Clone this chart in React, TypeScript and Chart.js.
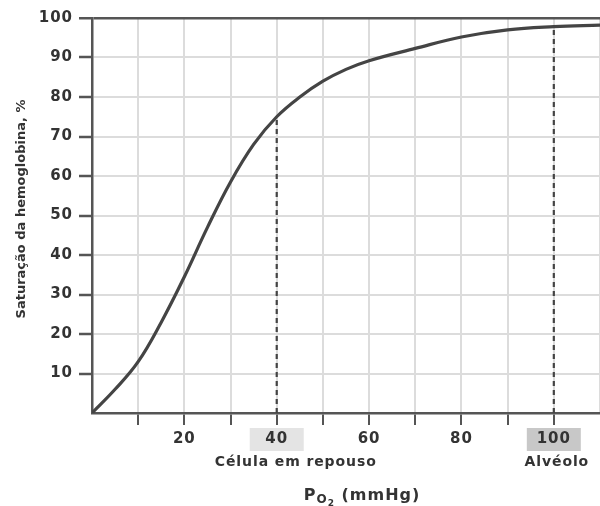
import React, { useEffect, useRef } from "react";
import { Chart, registerables } from "chart.js";

Chart.register(...registerables);

const po2Values = [0, 5, 10, 15, 20, 25, 30, 35, 40, 45, 50, 55, 60, 70, 80, 90, 100, 110];
const saturationValues = [0, 6, 13, 23, 34.5, 47, 58.5, 68, 75, 80, 84, 87, 89.2, 92.3, 95.2, 97, 97.8, 98.2];
const xTickLabels = [20, 40, 60, 80, 100];
const yTickLabels = [10, 20, 30, 40, 50, 60, 70, 80, 90, 100];
const markerPo2 = [40, 100];
const markerSaturation = [75, 97.8];
const markerNames = ["Célula em repouso", "Alvéolo"];
const markerNameShift = [19, 3];
const markerBoxColors = ["#e4e4e4", "#c8c8c8"];
const yTitle = "Saturação da hemoglobina, %";

const FONT = "'DejaVu Sans', 'Liberation Sans', Arial, sans-serif";
const TEXT = "#333333";

const overlayPlugin = {
  id: "overlay",
  beforeDraw(chart: any) {
    const ctx = chart.ctx;
    const xs = chart.scales.x;
    ctx.save();
    markerPo2.forEach((v, i) => {
      const cx = xs.getPixelForValue(v);
      ctx.fillStyle = markerBoxColors[i];
      ctx.fillRect(cx - 27, 428, 54, 23);
    });
    ctx.restore();
    ctx.letterSpacing = "1px";
  },
  afterDraw(chart: any) {
    const ctx = chart.ctx;
    const xs = chart.scales.x;
    ctx.save();
    ctx.letterSpacing = "0.9px";
    ctx.fillStyle = TEXT;
    ctx.textAlign = "center";
    ctx.textBaseline = "middle";
    ctx.font = `bold 14px ${FONT}`;
    markerPo2.forEach((v, i) => {
      ctx.fillText(markerNames[i], xs.getPixelForValue(v) + markerNameShift[i], 462);
    });
    // x title with subscript
    ctx.letterSpacing = "1px";
    const parts = [
      { t: "P", f: `bold 16px ${FONT}`, dy: 0 },
      { t: "O", f: `bold 12px ${FONT}`, dy: 3 },
      { t: "2", f: `bold 9px ${FONT}`, dy: 6 },
      { t: " (mmHg)", f: `bold 16px ${FONT}`, dy: 0 },
    ];
    let total = 0;
    parts.forEach((p) => {
      ctx.font = p.f;
      total += ctx.measureText(p.t).width;
    });
    let x = 362 - total / 2;
    ctx.textAlign = "left";
    ctx.textBaseline = "alphabetic";
    parts.forEach((p) => {
      ctx.font = p.f;
      ctx.fillText(p.t, x, 500 + p.dy);
      x += ctx.measureText(p.t).width;
    });
    // y title
    ctx.letterSpacing = "0px";
    ctx.translate(22, 209);
    ctx.rotate(-Math.PI / 2);
    ctx.textAlign = "center";
    ctx.textBaseline = "middle";
    ctx.font = `bold 13px ${FONT}`;
    ctx.fillText(yTitle, 0, 0);
    ctx.restore();
    ctx.letterSpacing = "0px";
  },
};

export default function App() {
  const ref = useRef<HTMLCanvasElement>(null);
  useEffect(() => {
    if (!ref.current) return;
    const curve = po2Values.map((v, i) => ({ x: v, y: saturationValues[i] }));
    const dashed = markerPo2.map((v, i) => ({
      type: "line" as const,
      data: [
        { x: v, y: 0 },
        { x: v, y: markerSaturation[i] },
      ],
      borderColor: "#444",
      borderWidth: 2.2,
      borderDash: [5, 4],
      pointRadius: 0,
      tension: 0,
      order: 2,
    }));
    const chart = new Chart(ref.current, {
      type: "line",
      data: {
        datasets: [
          {
            data: curve,
            borderColor: "#444444",
            borderWidth: 3.2,
            pointRadius: 0,
            tension: 0.4,
            order: 1,
          },
          ...dashed,
        ] as any,
      },
      plugins: [overlayPlugin],
      options: {
        animation: false,
        responsive: false,
        events: [],
        layout: { padding: { top: 18, right: 0, left: 0, bottom: 0 } },
        plugins: { legend: { display: false }, tooltip: { enabled: false } },
        scales: {
          x: {
            type: "linear",
            min: 0,
            max: 110,
            afterFit: (s: any) => {
              s.height = 93;
              s.paddingRight = 0;
              s.paddingLeft = 0;
            },
            ticks: {
              stepSize: 10,
              autoSkip: false,
              maxRotation: 0,
              color: TEXT,
              padding: 5,
              font: { family: FONT, size: 15, weight: "bold" },
              callback: (v: any) => (xTickLabels.includes(Number(v)) ? String(v) : ""),
            },
            grid: {
              color: "#dcdcdc",
              lineWidth: 2,
              tickLength: 12,
              tickColor: (c: any) =>
                c.tick && (c.tick.value === 0 || c.tick.value === 110) ? "rgba(0,0,0,0)" : "#555",
              tickWidth: 2,
            },
            border: { color: "#555", width: 2.5 },
          },
          y: {
            type: "linear",
            min: 0,
            max: 100,
            afterFit: (s: any) => {
              s.width = 92;
            },
            ticks: {
              stepSize: 10,
              autoSkip: false,
              color: TEXT,
              padding: 6,
              font: { family: FONT, size: 15, weight: "bold" },
              callback: (v: any) => (yTickLabels.includes(Number(v)) ? String(v) : ""),
            },
            grid: {
              color: (c: any) => (c.tick && c.tick.value === 100 ? "#555" : "#dcdcdc"),
              lineWidth: (c: any) => (c.tick && c.tick.value === 100 ? 2.5 : 2),
              tickLength: 13,
              tickColor: (c: any) => (c.tick && c.tick.value === 0 ? "rgba(0,0,0,0)" : "#555"),
              tickWidth: 2.5,
            },
            border: { color: "#555", width: 2.5 },
          },
        },
      } as any,
    });
    return () => chart.destroy();
  }, []);
  return (
    <div style={{ position: "absolute", left: 0, top: 0, width: 600, height: 506, background: "#fff" }}>
      <canvas ref={ref} width={600} height={506} />
    </div>
  );
}
